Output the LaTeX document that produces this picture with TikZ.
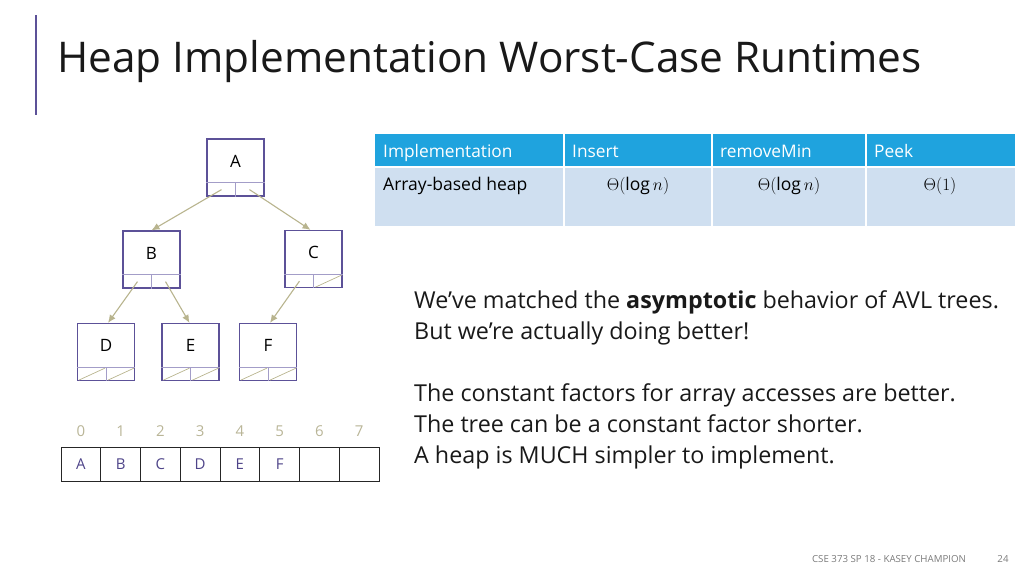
\documentclass[tikz,border=0pt]{standalone}
\usepackage{fontspec}
\setmainfont{Open Sans}
\usepackage{amsmath}
\usetikzlibrary{arrows.meta, positioning}
\definecolor{boxline}{HTML}{5C5198}
\definecolor{cellpurple}{HTML}{A39DC8}
\definecolor{edgetan}{HTML}{B8B48E}
\definecolor{idxtan}{HTML}{B9B597}
\definecolor{arrpurple}{HTML}{4E4489}
\definecolor{headblue}{HTML}{1FA3DE}
\definecolor{rowblue}{HTML}{CFDFF0}
\definecolor{footgray}{HTML}{7A7A7A}

\begin{document}
\begin{tikzpicture}[x=1pt, y=-1pt,
    heapbox/.style={draw=boxline, line width=1.2pt, minimum width=57pt, minimum height=57pt, inner sep=0pt},
    key/.style={font=\fontsize{17}{20}\selectfont, inner sep=0pt},
    cellline/.style={draw=cellpurple, line width=0.9pt},
    nullptr/.style={draw=edgetan, line width=0.7pt},
    ptr/.style={draw=edgetan, line width=1.1pt, -{Latex[length=8pt, width=7pt]}},
    arrcell/.style={draw=black!85, line width=1pt, minimum width=39.75pt, minimum height=34pt, inner sep=0pt, text=arrpurple, font=\fontsize{15}{18}\selectfont},
    idx/.style={text=idxtan, inner sep=0pt, font=\fontsize{15}{18}\selectfont},
    headtext/.style={anchor=base west, text=white, inner sep=0pt, font=\fontsize{17.3}{20}\selectfont},
    rowtext/.style={inner sep=0pt, font=\fontsize{17.5}{20}\selectfont}]

\useasboundingbox (0,0) rectangle (1024,576);

\draw[boxline, line width=1.5pt] (36,15) -- (36,115);
\node[anchor=west, inner sep=0pt, text=black!90, font=\fontsize{42.3}{46}\selectfont] (title) at (57,62) {Heap Implementation Worst-Case Runtimes};

\foreach \n/\x/\y in {A/235.5/167.5, B/151.5/259.5, C/313.5/259, D/106/352, E/190.5/352, F/268/352} {
  \node[heapbox] (\n) at (\x,\y) {};
  \node[key] (\n-key) at ([yshift=6.5pt]\n.center) {\n};
  \draw[cellline] ([yshift=14pt]\n.south west) -- ([yshift=14pt]\n.south east);
  \draw[cellline] (\n.south) -- ([yshift=14pt]\n.south);
  \coordinate (\n-l) at ([xshift=-14pt, yshift=7pt]\n.south);
  \coordinate (\n-r) at ([xshift=14pt, yshift=7pt]\n.south);
}

\draw[nullptr] ([xshift=2pt, yshift=1pt]C.south) -- ([xshift=-1pt, yshift=13pt]C.south east);
\foreach \n in {D, E, F} {
  \draw[nullptr] ([xshift=2pt, yshift=1pt]\n.south west) -- ([xshift=-1pt, yshift=13pt]\n.south);
  \draw[nullptr] ([xshift=2pt, yshift=1pt]\n.south) -- ([xshift=-1pt, yshift=13pt]\n.south east);
}

\draw[ptr] (A-l) -- (B.north);
\draw[ptr] (A-r) -- ([xshift=-3pt]C.north);
\draw[ptr] (B-l) -- ([xshift=2pt]D.north);
\draw[ptr] (B-r) -- ([xshift=-1pt]E.north);
\draw[ptr] (C-l) -- ([xshift=2pt]F.north);

\foreach \i/\v in {0/A, 1/B, 2/C, 3/D, 4/E, 5/F, 6/, 7/} {
  \node[arrcell] (cell\i) at ({80.9+39.75*\i}, 464) {\v};
  \node[idx] (idx\i) at ({80.9+39.75*\i}, 431) {\i};
}

\fill[headblue] (375,134) rectangle (1015,166);
\fill[rowblue] (375,168) rectangle (1015,226);
\foreach \x in {564, 712, 866}
  \draw[white, line width=2pt] (\x,134) -- (\x,226);
\node[headtext] (h1) at (383,157) {Implementation};
\node[headtext] (h2) at (572,157) {Insert};
\node[headtext] (h3) at (720,157) {removeMin};
\node[headtext] (h4) at (874,157) {Peek};
\node[rowtext, anchor=base west] (r1) at (383,190) {Array-based heap};
\node[rowtext] (r2) at (638,186) {$\Theta(\log n)$};
\node[rowtext] (r3) at (789,186) {$\Theta(\log n)$};
\node[rowtext] (r4) at (940,186) {$\Theta(1)$};

\node[anchor=north west, align=left, inner sep=0pt, text=black!90, font=\fontsize{23.3}{30.9}\selectfont] (body) at (414,290.5)
  {We’ve matched the \textbf{asymptotic} behavior of AVL trees.\\
   But we’re actually doing better!\\[31pt]
   The constant factors for array accesses are better.\\
   The tree can be a constant factor shorter.\\
   A heap is MUCH simpler to implement.};

\node[text=footgray, inner sep=0pt, font=\fontsize{9.7}{11}\selectfont] (foot) at (889,559) {CSE 373 SP 18 - KASEY CHAMPION};
\node[text=footgray, inner sep=0pt, font=\fontsize{9.7}{11}\selectfont] (page) at (1003,559) {24};
\end{tikzpicture}
\end{document}
